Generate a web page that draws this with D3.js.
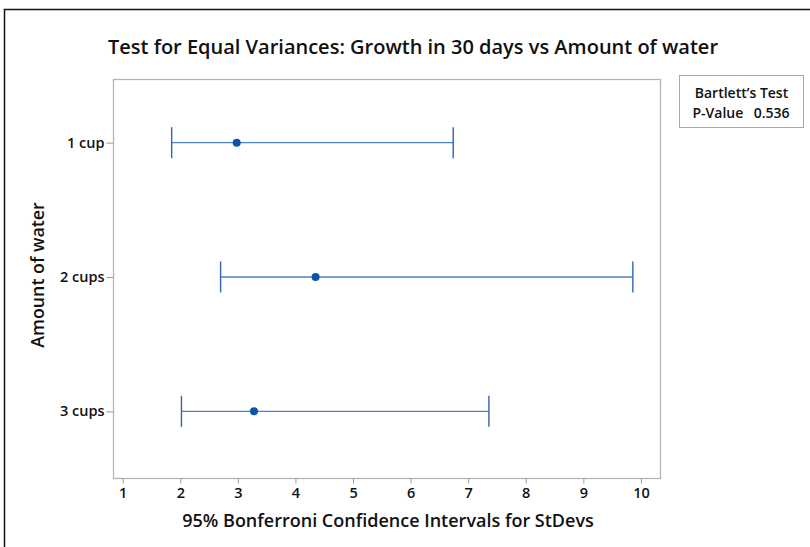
<!DOCTYPE html>
<html>
<head>
<meta charset="utf-8">
<script src="https://cdn.jsdelivr.net/npm/d3@7"></script>
<style>
  html, body { margin: 0; padding: 0; background: #fff; }
  svg { display: block; font-family: "Open Sans", "Noto Sans", sans-serif; }
</style>
</head>
<body>
<svg id="chart" width="810" height="547"></svg>
<script>
// Groups and their Bonferroni intervals for the standard deviation
const groups = ["1 cup", "2 cups", "3 cups"];
const stdevs = [2.98, 4.35, 3.28];
const lowerCI = [1.85, 2.70, 2.02];
const upperCI = [6.74, 9.86, 7.36];
const xTicks = [1, 2, 3, 4, 5, 6, 7, 8, 9, 10];
const testName = "Bartlett\u2019s Test";
const pValue = "0.536";

const svg = d3.select("#chart");
const W = 810, H = 547;

// outer frame
svg.append("path")
  .attr("d", `M4.5,${H} V9.5 H${W}`)
  .attr("fill", "none")
  .attr("stroke", "#111")
  .attr("stroke-width", 1.5);

const plot = { left: 113.5, right: 660.5, top: 79.5, bottom: 478.5 };

const x = d3.scaleLinear().domain([0.84, 10.34]).range([plot.left, plot.right]);
const y = d3.scalePoint().domain(groups).range([75.5, 478.5]).padding(0.5);

// plot frame
svg.append("rect")
  .attr("x", plot.left).attr("y", plot.top)
  .attr("width", plot.right - plot.left).attr("height", plot.bottom - plot.top)
  .attr("fill", "none").attr("stroke", "#b5b5b5").attr("stroke-width", 1.3);

// x axis
const xAxis = svg.append("g")
  .attr("transform", `translate(0,${plot.bottom})`)
  .call(d3.axisBottom(x).tickValues(xTicks).tickSize(5).tickPadding(4).tickFormat(d3.format("d")));
xAxis.select(".domain").remove();
xAxis.selectAll(".tick line").attr("stroke", "#9a9a9a");
xAxis.selectAll(".tick text")
  .attr("fill", "#111").attr("font-size", 14.5).attr("font-weight", 600)
  .attr("font-family", "'Open Sans', sans-serif");

// y axis
const yAxis = svg.append("g")
  .attr("transform", `translate(${plot.left},0)`)
  .call(d3.axisLeft(y).tickSize(7).tickPadding(2));
yAxis.select(".domain").remove();
yAxis.selectAll(".tick line").attr("stroke", "#9a9a9a");
yAxis.selectAll(".tick text")
  .attr("fill", "#111").attr("font-size", 14.5).attr("font-weight", 600)
  .attr("font-family", "'Open Sans', sans-serif");

// interval bars
const rows = groups.map((g, i) => ({ g, s: stdevs[i], lo: lowerCI[i], hi: upperCI[i] }));
const bars = svg.append("g").selectAll("g").data(rows).join("g");
bars.append("line")
  .attr("x1", d => x(d.lo)).attr("x2", d => x(d.hi))
  .attr("y1", d => y(d.g)).attr("y2", d => y(d.g))
  .attr("stroke", "#4f82c2").attr("stroke-width", 1.4);
bars.selectAll("line.cap").data(d => [d.lo, d.hi].map(v => ({ v, g: d.g }))).join("line")
  .attr("class", "cap")
  .attr("x1", d => x(d.v)).attr("x2", d => x(d.v))
  .attr("y1", d => y(d.g) - 15.5).attr("y2", d => y(d.g) + 15.5)
  .attr("stroke", "#2f66ad").attr("stroke-width", 1.4);
bars.append("circle")
  .attr("cx", d => x(d.s)).attr("cy", d => y(d.g)).attr("r", 4)
  .attr("fill", "#0a55a8");

// title
svg.append("text")
  .attr("x", 413).attr("y", 54)
  .attr("text-anchor", "middle")
  .attr("font-size", 20).attr("font-weight", 600).attr("fill", "#111")
  .text("Test for Equal Variances: Growth in 30 days vs Amount of water");

// axis titles
svg.append("text")
  .attr("x", (plot.left + plot.right) / 2 + 1).attr("y", 527)
  .attr("text-anchor", "middle")
  .attr("font-size", 18).attr("font-weight", 600).attr("fill", "#111")
  .text("95% Bonferroni Confidence Intervals for StDevs");

svg.append("text")
  .attr("transform", "translate(44,275) rotate(-90)")
  .attr("text-anchor", "middle")
  .attr("font-size", 17.8).attr("font-weight", 600).attr("fill", "#111")
  .text("Amount of water");

// test summary box
const box = svg.append("g").attr("transform", "translate(679.5,75.5)");
box.append("rect").attr("width", 124).attr("height", 52)
  .attr("fill", "#fff").attr("stroke", "#a8a8a8").attr("stroke-width", 1);
box.append("text").attr("x", 62).attr("y", 22.5).attr("text-anchor", "middle")
  .attr("font-size", 14).attr("font-weight", 600).attr("fill", "#111").text(testName);
box.append("text").attr("x", 13).attr("y", 42.5)
  .attr("font-size", 14).attr("font-weight", 600).attr("fill", "#111").text("P-Value");
box.append("text").attr("x", 110).attr("y", 42.5).attr("text-anchor", "end")
  .attr("font-size", 14).attr("font-weight", 600).attr("fill", "#111").text(pValue);
</script>
</body>
</html>
